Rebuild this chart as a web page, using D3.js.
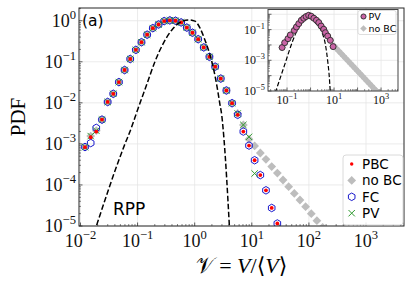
<!DOCTYPE html>
<html>
<head>
<meta charset="utf-8">
<script src="https://cdn.jsdelivr.net/npm/d3@7"></script>
<style>body{margin:0;background:#fff}</style>
</head>
<body>
<script>
// ---- main panel data ----
const binX = [0.0120, 0.0151, 0.0189, 0.0238, 0.0299, 0.0375, 0.0471, 0.0592, 0.0743, 0.0933,
  0.117, 0.147, 0.185, 0.233, 0.292, 0.367, 0.461, 0.579, 0.728, 0.914,
  1.15, 1.44, 1.81, 2.28, 2.86, 3.59, 4.51, 5.66, 7.11, 8.93,
  11.2, 14.1, 17.7, 22.3, 28.0];
const pbcY = [8.3e-4, 1.45e-3, 2.0e-3, 3.9e-3, 0.0105, 0.0166, 0.032, 0.063, 0.117, 0.195,
  0.30, 0.457, 0.66, 0.81, 0.98, 1.02, 1.0, 0.91, 0.68, 0.51,
  0.355, 0.224, 0.132, 0.076, 0.039, 0.020, 0.0098, 5.1e-3, 2.0e-3, 9.1e-4,
  4.0e-4, 1.74e-4, 7.4e-5, 2.75e-5, 1.15e-5];
const fcY = [8.4e-4, 1.05e-3, 2.45e-3, 3.9e-3, 0.0105, 0.0166, 0.032, 0.063, 0.117, 0.195,
  0.30, 0.457, 0.66, 0.81, 0.98, 1.02, 1.0, 0.91, 0.68, 0.51,
  0.355, 0.224, 0.132, 0.076, 0.039, 0.020, 0.0098, 5.1e-3, 2.0e-3, 9.1e-4,
  4.0e-4, 1.74e-4, 7.4e-5, 2.75e-5, 1.15e-5];
const pvY = [8.3e-4, 1.55e-3, 2.1e-3, 3.9e-3, 0.0105, 0.0166, 0.032, 0.063, 0.117, 0.195,
  0.30, 0.457, 0.66, 0.81, 0.98, 1.02, 1.0, 0.91, 0.68, 0.51,
  0.355, 0.224, 0.132, 0.076, 0.039, 0.020, 0.0098, 5.5e-3, 2.9e-3, 1.48e-3,
  1.9e-4];
const noBcX = binX.concat([35.2, 44.2, 55.5, 69.7, 87.5, 110, 138, 174]);
const noBcY = [8.3e-4, 1.55e-3, 2.1e-3, 3.9e-3, 0.0105, 0.0166, 0.032, 0.063, 0.117, 0.195,
  0.30, 0.457, 0.66, 0.81, 0.98, 1.02, 1.0, 0.91, 0.68, 0.51,
  0.355, 0.224, 0.132, 0.076, 0.039, 0.020, 0.0098, 5.5e-3, 2.9e-3, 1.3e-3,
  8.9e-4, 6.0e-4, 4.2e-4, 2.8e-4, 1.95e-4, 1.32e-4, 9.1e-5, 6.2e-5, 4.3e-5, 2.95e-5,
  2.0e-5, 1.35e-5, 9.3e-6];
const rppX = [0.0192, 0.0527, 0.0601, 0.0736, 0.103, 0.144, 0.202, 0.282, 0.395, 0.553,
  0.773, 1.01, 1.24, 1.51, 1.85, 2.12, 2.43, 2.77, 2.97, 3.26, 4.04];
const rppY = [1.05e-5, 6.2e-4, 1.0e-3, 2.0e-3, 7.6e-3, 0.0275, 0.102, 0.282, 0.589, 0.912,
  1.047, 0.977, 0.661, 0.339, 0.148, 0.0708, 0.0275, 9.1e-3, 5.1e-3, 1.29e-3, 1.05e-5];

// ---- inset data ----
const inPvX = [0.0617, 0.0794, 0.110, 0.138, 0.204, 0.251, 0.316, 0.407, 0.513, 0.646,
  0.832, 1.07, 1.38, 1.78, 2.24, 2.82, 3.63, 4.27, 5.37, 6.92, 9.12];
const inPvY = [6.8e-3, 0.0141, 0.0257, 0.0447, 0.089, 0.148, 0.245, 0.407, 0.55, 0.708,
  0.851, 0.741, 0.55, 0.407, 0.288, 0.17, 0.105, 0.063, 0.038, 0.020, 7.8e-3];
const inNoBcX = inPvX.concat([10, 12.6, 15.8, 20, 25.1, 31.6, 39.8, 50.1, 63.1, 79.4,
  100, 126, 158, 200, 251, 316, 398, 501, 631, 794]);
const inNoBcY = inPvY.concat([8.7e-3, 5.9e-3, 4.1e-3, 2.8e-3, 1.9e-3, 1.32e-3, 9.1e-4, 6.2e-4, 4.3e-4, 2.95e-4,
  2.0e-4, 1.38e-4, 9.5e-5, 6.6e-5, 4.5e-5, 3.1e-5, 2.1e-5, 1.45e-5, 1.0e-5, 6.9e-6]);
const inRppX = [0.0316, 0.0519, 0.0851, 0.138, 0.224, 0.372, 0.603, 0.838, 1.16, 1.58,
  3.09, 4.27, 5.37, 6.31, 6.92];
const inRppY = [7.9e-6, 7.4e-5, 7.1e-4, 6.8e-3, 0.049, 0.224, 0.55, 0.79, 0.468, 0.288,
  0.063, 0.011, 8.9e-4, 7.4e-5, 7.9e-6];

// ---- ticks and labels ----
const mainXTicks = [-2, -1, 0, 1, 2, 3];
const mainYTicks = [-5, -4, -3, -2, -1, 0];
const insetXTicks = [-1, 1, 3];
const insetYTicks = [-5, -3, -1];
const legendNames = ['PBC', 'no BC', 'FC', 'PV'];
const insetLegendNames = ['PV', 'no BC'];

const W = 407, H = 283;
const serif = "'Liberation Serif', 'DejaVu Serif', serif";
const sans = "'DejaVu Sans', sans-serif";

const svg = d3.select('body').append('svg')
  .attr('width', W).attr('height', H)
  .attr('xmlns', 'http://www.w3.org/2000/svg');
svg.append('rect').attr('width', W).attr('height', H).attr('fill', '#fff');

// marker helpers
function diamond(r) { return `M0,${-r}L${r},0L0,${r}L${-r},0Z`; }
function hexagon(r) {
  let p = '';
  for (let k = 0; k < 6; k++) {
    const a = Math.PI / 2 + k * Math.PI / 3;
    p += (k ? 'L' : 'M') + (r * Math.cos(a)).toFixed(2) + ',' + (-r * Math.sin(a)).toFixed(2);
  }
  return p + 'Z';
}
function drawMarker(g, kind, cx, cy, s) {
  if (kind === 'dot') {
    g.append('circle').attr('cx', cx).attr('cy', cy).attr('r', 1.9 * s).attr('fill', '#ff0000');
  } else if (kind === 'diamond') {
    g.append('path').attr('d', diamond(4.4 * s)).attr('transform', `translate(${cx},${cy})`).attr('fill', '#bdbdbd');
  } else if (kind === 'hex') {
    g.append('path').attr('d', hexagon(3.8 * s)).attr('transform', `translate(${cx},${cy})`)
      .attr('fill', 'none').attr('stroke', '#1a1acc').attr('stroke-width', 1);
  } else if (kind === 'x') {
    const r = 3.2 * s;
    g.append('path').attr('d', `M${cx - r},${cy - r}L${cx + r},${cy + r}M${cx - r},${cy + r}L${cx + r},${cy - r}`)
      .attr('stroke', '#2e9a2e').attr('stroke-width', 1).attr('fill', 'none');
  } else if (kind === 'pv') {
    g.append('circle').attr('cx', cx).attr('cy', cy).attr('r', 3 * s)
      .attr('fill', '#c965a6').attr('stroke', '#2a2a2a').attr('stroke-width', 0.9);
  }
}
function series(g, xs, ys, kind, sx, sy, s) {
  xs.forEach((v, i) => { if (ys[i] !== undefined) drawMarker(g, kind, sx(v), sy(ys[i]), s); });
}
function powLabel(t, e, fs) {
  t.append('tspan').text('10');
  t.append('tspan').attr('dy', -fs * 0.42).attr('font-size', fs * 0.7)
    .text(e < 0 ? '\u2212' + (-e) : String(e));
}
function minorTicks(lo, hi) {
  const out = [];
  for (let d = lo; d <= hi; d++) for (let m = 2; m <= 9; m++) out.push(m * Math.pow(10, d));
  return out;
}
function grid(g, sx, sy, box, gridX, gridY) {
  gridX.forEach(e => g.append('line').attr('x1', sx(10 ** e)).attr('x2', sx(10 ** e))
    .attr('y1', box.t).attr('y2', box.b).attr('stroke', '#e6e6e6').attr('stroke-width', 0.8));
  gridY.forEach(e => g.append('line').attr('y1', sy(10 ** e)).attr('y2', sy(10 ** e))
    .attr('x1', box.l).attr('x2', box.r).attr('stroke', '#e6e6e6').attr('stroke-width', 0.8));
}
function ticks(g, sx, sy, box, xMajor, yMajor, xMinor, yMinor, col) {
  const xd = sx.domain(), yd = sy.domain();
  const inX = v => v >= xd[0] && v <= xd[1], inY = v => v >= yd[0] && v <= yd[1];
  xMajor.filter(inX).forEach(v => g.append('line').attr('x1', sx(v)).attr('x2', sx(v))
    .attr('y1', box.b).attr('y2', box.b - 3.5).attr('stroke', col).attr('stroke-width', 0.8));
  xMinor.filter(inX).forEach(v => g.append('line').attr('x1', sx(v)).attr('x2', sx(v))
    .attr('y1', box.b).attr('y2', box.b - 2).attr('stroke', col).attr('stroke-width', 0.6));
  yMajor.filter(inY).forEach(v => g.append('line').attr('y1', sy(v)).attr('y2', sy(v))
    .attr('x1', box.l).attr('x2', box.l + 3.5).attr('stroke', col).attr('stroke-width', 0.8));
  yMinor.filter(inY).forEach(v => g.append('line').attr('y1', sy(v)).attr('y2', sy(v))
    .attr('x1', box.l).attr('x2', box.l + 2).attr('stroke', col).attr('stroke-width', 0.6));
}

// ================= main panel =================
const M = { l: 79, r: 404, t: 8, b: 226 };
const x = d3.scaleLog().domain([10 ** -2.026, 10 ** 3.665]).range([M.l, M.r]);
const y = d3.scaleLog().domain([1e-5, 10 ** 0.31]).range([M.b, M.t]);

svg.append('clipPath').attr('id', 'clipMain').append('rect')
  .attr('x', M.l).attr('y', M.t).attr('width', M.r - M.l).attr('height', M.b - M.t);

const gm = svg.append('g');
grid(gm, x, y, M, d3.range(-2, 4), d3.range(-5, 1));

const dm = svg.append('g').attr('clip-path', 'url(#clipMain)');
series(dm, noBcX, noBcY, 'diamond', x, y, 1);
series(dm, binX, fcY, 'hex', x, y, 1);
series(dm, binX, pvY, 'x', x, y, 1);
series(dm, binX, pbcY, 'dot', x, y, 1);

const rppLine = d3.line().x(d => x(d[0])).y(d => y(d[1])).curve(d3.curveMonotoneX);
dm.append('path').attr('d', rppLine(d3.zip(rppX, rppY)))
  .attr('fill', 'none').attr('stroke', '#000').attr('stroke-width', 1.5)
  .attr('stroke-dasharray', '5.5,2.5');

ticks(gm, x, y, M, mainXTicks.map(e => 10 ** e), mainYTicks.map(e => 10 ** e),
  minorTicks(-3, 3), minorTicks(-6, 0), '#333');
svg.append('rect').attr('x', M.l).attr('y', M.t).attr('width', M.r - M.l).attr('height', M.b - M.t)
  .attr('fill', 'none').attr('stroke', '#262626').attr('stroke-width', 1);

mainXTicks.forEach(e => {
  const t = svg.append('text').attr('x', x(10 ** e)).attr('y', 246.5)
    .attr('text-anchor', 'middle').attr('font-family', serif).attr('font-size', 18).attr('fill', '#111');
  powLabel(t, e, 18);
});
mainYTicks.forEach(e => {
  const t = svg.append('text').attr('x', 76).attr('y', y(10 ** e) + 6)
    .attr('text-anchor', 'end').attr('font-family', serif).attr('font-size', 18).attr('fill', '#111');
  powLabel(t, e, 18);
});

svg.append('text').attr('transform', 'translate(25,117) rotate(-90)')
  .attr('text-anchor', 'middle').attr('font-family', serif).attr('font-size', 21).text('PDF');

const xl = svg.append('text').attr('x', 241.5).attr('y', 273).attr('text-anchor', 'middle')
  .attr('font-family', serif).attr('font-size', 22);
xl.append('tspan').attr('font-family', "'DejaVu Sans', serif").text('\u{1D4B1}');
xl.append('tspan').text(' = ');
xl.append('tspan').attr('font-style', 'italic').text('V');
xl.append('tspan').text('/\u27E8');
xl.append('tspan').attr('font-style', 'italic').text('V');
xl.append('tspan').text('\u27E9');

svg.append('text').attr('x', 82).attr('y', 26).attr('font-family', sans).attr('font-size', 15.5).text('(a)');
svg.append('text').attr('x', 113).attr('y', 215).attr('font-family', sans).attr('font-size', 17).text('RPP');

// main legend
const lg = svg.append('g');
lg.append('rect').attr('x', 343).attr('y', 155).attr('width', 60).attr('height', 70).attr('rx', 3)
  .attr('fill', '#fff').attr('fill-opacity', 0.85).attr('stroke', '#d0d0d0').attr('stroke-width', 0.8);
const legKinds = ['dot', 'diamond', 'hex', 'x'];
legendNames.forEach((n, i) => {
  const cy = 164 + i * 16.4;
  drawMarker(lg, legKinds[i], 351.7, cy, i === 0 ? 0.9 : 1);
  lg.append('text').attr('x', 362).attr('y', cy + 5).attr('font-family', sans).attr('font-size', 13.5).text(n);
});

// ================= inset =================
const I = { l: 268, r: 398, t: 9.5, b: 91 };
const ix = d3.scaleLog().domain([10 ** -1.81, 10 ** 3.72]).range([I.l, I.r]);
const iy = d3.scaleLog().domain([1e-5, 10 ** 0.31]).range([I.b, I.t]);
svg.append('rect').attr('x', I.l).attr('y', I.t).attr('width', I.r - I.l).attr('height', I.b - I.t).attr('fill', '#fff');
svg.append('clipPath').attr('id', 'clipIn').append('rect')
  .attr('x', I.l).attr('y', I.t).attr('width', I.r - I.l).attr('height', I.b - I.t);
const gi = svg.append('g');
grid(gi, ix, iy, I, d3.range(-1, 4), d3.range(-5, 1));
const di = svg.append('g').attr('clip-path', 'url(#clipIn)');
series(di, inNoBcX, inNoBcY, 'diamond', ix, iy, 0.85);
const inLine = d3.line().x(d => ix(d[0])).y(d => iy(d[1])).curve(d3.curveMonotoneX);
di.append('path').attr('d', inLine(d3.zip(inRppX, inRppY)))
  .attr('fill', 'none').attr('stroke', '#000').attr('stroke-width', 1.2)
  .attr('stroke-dasharray', '4.5,2.2');
series(di, inPvX, inPvY, 'pv', ix, iy, 1);
ticks(gi, ix, iy, I, d3.range(-1, 4).map(e => 10 ** e), d3.range(-5, 1).map(e => 10 ** e),
  minorTicks(-2, 3), minorTicks(-6, 0), '#444');
svg.append('rect').attr('x', I.l).attr('y', I.t).attr('width', I.r - I.l).attr('height', I.b - I.t)
  .attr('fill', 'none').attr('stroke', '#444').attr('stroke-width', 1);

insetXTicks.forEach(e => {
  const t = svg.append('text').attr('x', ix(10 ** e)).attr('y', 104)
    .attr('text-anchor', 'middle').attr('font-family', serif).attr('font-size', 12).attr('fill', '#111');
  powLabel(t, e, 12);
});
insetYTicks.forEach(e => {
  const t = svg.append('text').attr('x', 265).attr('y', iy(10 ** e) + 4)
    .attr('text-anchor', 'end').attr('font-family', serif).attr('font-size', 12).attr('fill', '#111');
  powLabel(t, e, 12);
});

const il = svg.append('g');
il.append('rect').attr('x', 358).attr('y', 10.5).attr('width', 38).attr('height', 24).attr('rx', 2)
  .attr('fill', '#fff').attr('fill-opacity', 0.85).attr('stroke', '#d0d0d0').attr('stroke-width', 0.7);
const inLegKinds = ['pv', 'diamond'];
insetLegendNames.forEach((n, i) => {
  const cy = 16.5 + i * 12;
  drawMarker(il, inLegKinds[i], 363.5, cy, i === 0 ? 0.85 : 0.75);
  il.append('text').attr('x', 368.5).attr('y', cy + 3.5).attr('font-family', sans).attr('font-size', 9.5).text(n);
});
</script>
</body>
</html>
